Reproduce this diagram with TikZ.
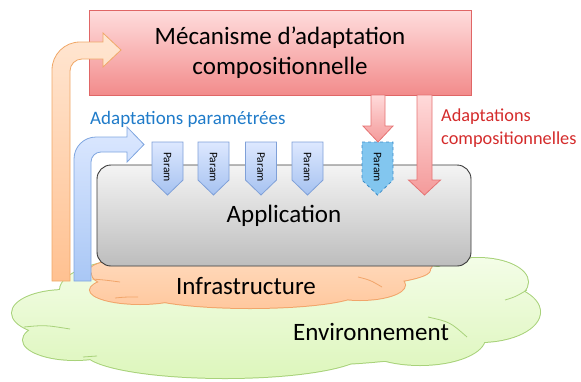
\documentclass[tikz,border=0pt]{standalone}
\usepackage{fontspec}
\setmainfont{Carlito}
\usepackage{xcolor}
\usepackage{tikz}
\usetikzlibrary{positioning, arrows.meta}
\definecolor{mecatop}{HTML}{FFDDDD}
\definecolor{mecabot}{HTML}{F28B8B}
\definecolor{mecaborder}{HTML}{E06666}
\definecolor{redtop}{HTML}{FFDADA}
\definecolor{redbot}{HTML}{F49A9A}
\definecolor{redborder}{HTML}{E57373}
\definecolor{orgtop}{HTML}{FFE6D2}
\definecolor{orgbot}{HTML}{FFC191}
\definecolor{orgborder}{HTML}{F0A868}
\definecolor{bluetop}{HTML}{DCE8FF}
\definecolor{bluebot}{HTML}{A9C7F5}
\definecolor{blueborder}{HTML}{7FA6E0}
\definecolor{paramtop}{HTML}{DDE8FF}
\definecolor{parambot}{HTML}{A6C2F0}
\definecolor{paramborder}{HTML}{7FA0D8}
\definecolor{dashfill}{HTML}{82C6EF}
\definecolor{dashborder}{HTML}{3C8CC8}
\definecolor{apptop}{HTML}{F4F4F4}
\definecolor{appbot}{HTML}{BDBDBD}
\definecolor{appborder}{HTML}{3A3A3A}
\definecolor{envtop}{HTML}{F4FDE8}
\definecolor{envbot}{HTML}{DDF6BC}
\definecolor{envborder}{HTML}{A8D27A}
\definecolor{infratop}{HTML}{FFDCC0}
\definecolor{infrabot}{HTML}{FFC89E}
\definecolor{infraborder}{HTML}{F1A56A}
\definecolor{paramblue}{HTML}{1F7BC9}
\definecolor{compred}{HTML}{D42B2B}

\tikzset{
  paramshape/.style={draw=paramborder, top color=paramtop, bottom color=parambot, line width=0.8pt},
  paramtext/.style={rotate=-90, font=\fontsize{11.5}{11.5}\selectfont, inner sep=0pt},
  redarrow/.style={draw=redborder, top color=redtop, bottom color=redbot, line width=0.8pt}
}

\begin{document}
\begin{tikzpicture}[x=1pt, y=-1pt]
  \useasboundingbox (0,0) rectangle (581,381);

  % environnement
  \path[draw=envborder, line width=2pt]
    (65,313) ellipse (53pt and 23pt) (75,340) ellipse (52pt and 20pt)
    (225,352) ellipse (140pt and 26pt) (420,338) ellipse (65pt and 27pt)
    (480,312) ellipse (60pt and 30pt) (478,282) ellipse (50pt and 24pt)
    (150,290) ellipse (90pt and 32pt) (300,310) ellipse (220pt and 55pt);
  \path[top color=envtop, bottom color=envbot]
    (65,313) ellipse (53pt and 23pt) (75,340) ellipse (52pt and 20pt)
    (225,352) ellipse (140pt and 26pt) (420,338) ellipse (65pt and 27pt)
    (480,312) ellipse (60pt and 30pt) (478,282) ellipse (50pt and 24pt)
    (150,290) ellipse (90pt and 32pt) (300,310) ellipse (220pt and 55pt);
  \draw[envborder, line width=0.8pt]
    (24,327) .. controls (45,325) .. (70,329)
    (83,357) .. controls (90,356) .. (97,356)
    (428,317) .. controls (450,322) .. (467,337)
    (505,300) .. controls (515,297) .. (527,290);

  % infrastructure
  \path[draw=infraborder, line width=2pt]
    (130,274) ellipse (38pt and 14pt) (140,290) ellipse (50pt and 14pt)
    (250,292) ellipse (110pt and 16pt) (360,285) ellipse (45pt and 15pt)
    (395,265) ellipse (37pt and 12pt) (260,270) ellipse (170pt and 20pt);
  \path[top color=infratop, bottom color=infrabot]
    (130,274) ellipse (38pt and 14pt) (140,290) ellipse (50pt and 14pt)
    (250,292) ellipse (110pt and 16pt) (360,285) ellipse (45pt and 15pt)
    (395,265) ellipse (37pt and 12pt) (260,270) ellipse (170pt and 20pt);
  \draw[infraborder, line width=0.8pt]
    (92,279) .. controls (105,280) .. (120,282)
    (115,298) .. controls (125,297) .. (138,297)
    (358,277) .. controls (370,280) .. (382,287);

  \node[draw=appborder, line width=0.9pt, rounded corners=14pt, top color=apptop, bottom color=appbot,
        minimum width=374pt, minimum height=101pt, font=\fontsize{25}{25}\selectfont] (appli) at (284,215.5) {Application};

  \foreach \px/\n in {167.5/1, 213.5/2, 261/3, 307.5/4}{
    \path[paramshape] (\px-15.5,142) -- (\px+15.5,142) -- (\px+15.5,180) -- (\px,195) -- (\px-15.5,180) -- cycle;
    \node[paramtext] (param\n) at (\px,167) {Param};
  }
  \path[draw=dashborder, fill=dashfill, dashed, line width=0.8pt]
    (362,142) -- (393,142) -- (393,180) -- (377.5,195) -- (362,180) -- cycle;
  \node[paramtext] (param5) at (377.5,167) {Param};

  \node[draw=mecaborder, line width=0.9pt, top color=mecatop, bottom color=mecabot,
        minimum width=382pt, minimum height=85pt, align=center,
        font=\fontsize{25}{30}\selectfont] (meca) at (280,52.5) {Mécanisme d’adaptation\\compositionnelle};

  \path[redarrow] (371,95) -- (371,126) -- (363,126) -- (378,142) -- (393,126) -- (385,126) -- (385,95) -- cycle;
  \path[redarrow] (417,95) -- (417,180) -- (408.5,180) -- (424.5,195) -- (440.5,180) -- (432,180) -- (432,95) -- cycle;

  \path[draw=orgborder, line width=0.8pt, top color=orgtop, bottom color=orgbot]
    (52,281) -- (52,70) .. controls (52,54.5) and (64.5,42) .. (80,42) -- (103,42) -- (103,33) -- (121,50)
    -- (103,67) -- (103,59) -- (82,59) .. controls (75.4,59) and (70,64.4) .. (70,71) -- (70,281) -- cycle;
  \path[draw=blueborder, line width=0.8pt, top color=bluetop, bottom color=bluebot]
    (74,281) -- (74,159) .. controls (74,146.8) and (83.8,137) .. (96,137) -- (127,137) -- (127,127) -- (144,144.5)
    -- (127,162) -- (127,152) -- (101,152) .. controls (95.5,152) and (91,156.5) .. (91,162) -- (91,281) -- cycle;

  \node[font=\fontsize{19}{20}\selectfont, text=paramblue, anchor=west, inner sep=0pt] (paramlabel) at (90,119) {Adaptations paramétrées};
  \node[font=\fontsize{18.3}{23}\selectfont, text=compred, align=left, anchor=north west, inner sep=0pt] (complabel) at (441,109) {Adaptations\\compositionnelles};
  \node[font=\fontsize{25}{25}\selectfont] (infra) at (246,286) {Infrastructure};
  \node[font=\fontsize{25}{25}\selectfont] (env) at (371,332) {Environnement};
\end{tikzpicture}
\end{document}
